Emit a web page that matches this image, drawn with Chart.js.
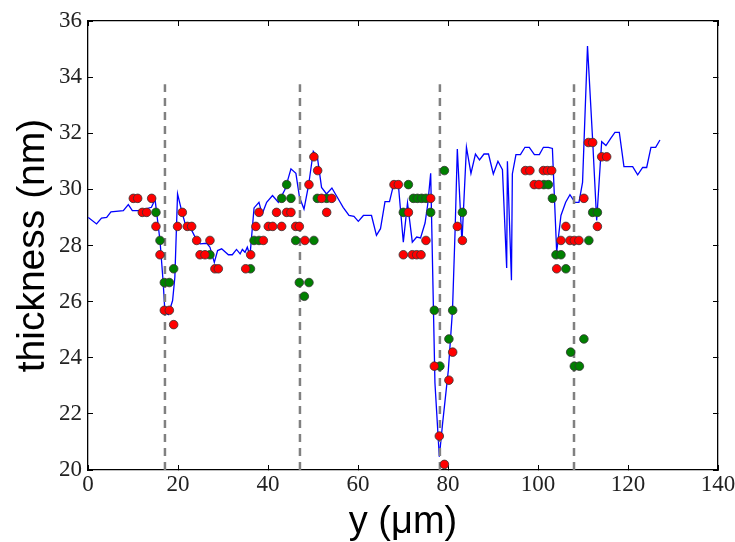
<!DOCTYPE html>
<html>
<head>
<meta charset="utf-8">
<script src="https://cdn.jsdelivr.net/npm/chart.js@4.4.1/dist/chart.umd.min.js"></script>
<style>
html,body{margin:0;padding:0;background:#fff;}
#wrap{width:735px;height:542px;}
</style>
</head>
<body>
<div id="wrap"><canvas id="c" width="735" height="542"></canvas></div>
<script>
// ---- profile line (blue) ----
const lineX = [0.07,1.9,3.0,4.15,5.1,7.85,8.96,9.85,11.6,14.1,14.9,16.0,16.7,17.1,17.85,18.8,19.3,19.9,20.8,21.6,22.7,23.8,24.9,26.4,27.1,28.07,28.8,29.7,31.2,32.07,33.0,33.8,34.3,34.9,35.4,36.0,36.9,37.99,38.7,39.7,41.0,42.3,43.8,45.1,46.2,47.0,48.0,49.0,50.07,50.96,51.9,53.0,54.2,55.4,56.7,58.0,59.1,60.07,61.2,63.0,64.1,65.0,66.0,67.0,67.8,69.0,70.07,71.0,72.07,73.04,73.9,74.9,75.5,76.15,77.1,78.07,78.8,80.07,81.0,81.6,82.07,83.1,84.1,85.1,86.1,87.0,88.0,89.0,90.07,91.1,92.1,93.04,93.2,94.1,94.3,95.1,96.1,97.1,98.07,99.2,100.3,101.2,102.3,103.2,104.15,105.1,106.15,107.1,108.2,109.1,109.9,111.0,112.15,113.04,114.15,115.1,116.2,117.1,118.07,119.1,120.07,121.04,122.15,123.26,124.15,125.1,126.15,127.1];
const lineY = [29.0,28.77,28.98,29.0,29.2,29.24,29.46,29.24,29.24,29.36,29.64,28.18,26.7,25.6,25.54,26.04,26.87,29.84,29.24,28.77,28.65,28.3,28.06,28.08,27.94,27.4,27.82,27.88,27.67,27.67,27.86,27.7,27.86,27.76,27.94,27.64,29.34,29.54,29.12,29.54,29.78,29.54,30.0,30.73,30.57,29.72,29.3,30.13,31.35,31.16,30.07,29.84,30.05,29.72,29.36,29.07,29.04,28.86,29.07,29.07,28.36,28.6,29.56,29.56,30.1,30.1,28.12,29.52,28.12,28.3,28.27,28.8,29.47,30.57,23.1,20.47,21.66,23.55,25.69,28.65,31.44,28.12,31.5,30.57,31.26,31.05,31.26,31.26,30.55,31.0,30.7,27.2,31.0,26.76,30.55,31.24,31.24,31.5,31.5,31.24,31.24,31.5,31.5,31.46,27.76,29.07,29.54,29.81,29.54,29.54,30.25,35.11,31.73,28.89,31.7,31.56,31.83,32.03,32.03,30.81,30.81,30.81,30.52,30.78,30.78,31.5,31.5,31.76];

// ---- red points ----
const redX = [10.07,11.04,14.15,12.07,13.04,20.96,15.1,19.9,22.07,23.04,24.15,27.1,16.0,24.9,26.0,28.2,28.96,16.96,18.07,19.04,
  36.15,35.04,38.96,37.3,40.07,41.04,43.04,46.15,46.96,38.0,41.9,44.15,45.1,53.04,51.9,54.15,49.1,51.04,50.2,48.2,
  68.0,68.96,76.15,71.2,82.07,75.1,83.2,70.07,72.07,73.04,74.0,81.04,76.96,80.2,78.07,79.2,
  97.2,98.2,101.2,102.1,103.04,99.15,100.2,110.2,106.2,113.2,105.1,107.1,108.07,109.1,104.15,111.2,112.15,114.15,115.26];
const redY = [29.68,29.68,29.68,29.18,29.18,29.18,28.68,28.68,28.68,28.68,28.18,28.18,27.67,27.67,27.67,27.17,27.17,25.69,25.69,25.18,
  27.67,27.17,28.18,28.68,28.68,28.68,28.68,28.68,28.68,29.18,29.18,29.18,29.18,29.18,29.68,29.68,30.17,30.67,31.16,28.18,
  30.17,30.17,29.68,29.18,28.68,28.18,28.18,27.67,27.67,27.67,27.67,24.2,23.7,23.2,21.21,20.2,
  30.67,30.67,30.67,30.67,30.67,30.17,30.17,29.68,28.68,28.68,28.18,28.18,28.18,28.18,27.17,31.67,31.67,31.16,31.16];

// ---- green points ----
const greenX = [15.1,16.0,27.1,19.04,36.1,16.96,18.07,36.9,38.0,
  43.04,45.1,50.96,53.04,44.15,46.15,50.2,46.96,49.1,48.07,
  71.2,72.3,73.2,74.15,75.1,70.07,76.15,83.2,79.2,76.96,81.04,80.2,78.2,
  101.3,102.3,103.2,112.15,113.2,111.3,104.0,105.1,106.2,110.2,107.26,108.07,109.2];
const greenY = [29.18,28.18,27.67,27.17,27.17,26.68,26.68,28.18,28.18,
  29.68,29.68,29.68,29.68,30.17,28.18,28.18,26.68,26.68,26.19,
  30.17,29.68,29.68,29.68,29.68,29.18,29.18,29.18,30.67,25.69,25.69,24.67,23.7,
  30.17,30.17,29.68,29.18,29.18,28.18,27.67,27.67,27.17,24.67,24.2,23.7,23.7];

// ---- dashed markers ----
const dashX = [17.1, 47.1, 78.2, 108.0];
const dashBottom = 20;
const dashTop = 33.75;

// ---- axes ----
const xTicks = [0,20,40,60,80,100,120,140];
const yTicks = [20,22,24,26,28,30,32,34,36];
const xTitle = 'y (μm)';
const yTitle = 'thickness (nm)';

const pts = (xs, ys) => xs.map((x, i) => ({x: x, y: ys[i]}));

const datasets = [];
datasets.push({
  label: 'red', data: pts(redX, redY), showLine: false,
  pointRadius: 4.3, pointBackgroundColor: '#ff0000', pointBorderColor: '#333333',
  pointBorderWidth: 0.8, order: 0
});
datasets.push({
  label: 'green', data: pts(greenX, greenY), showLine: false,
  pointRadius: 4.3, pointBackgroundColor: '#008000', pointBorderColor: '#333333',
  pointBorderWidth: 0.8, order: 1
});
dashX.forEach((dx, i) => {
  datasets.push({
    label: 'dash' + i, data: [{x: dx, y: dashBottom}, {x: dx, y: dashTop}],
    showLine: true, pointRadius: 0, borderColor: '#808080', borderWidth: 2.5,
    borderDash: [8, 6], order: 2
  });
});
datasets.push({
  label: 'profile', data: pts(lineX, lineY), showLine: true, pointRadius: 0,
  borderColor: '#0000ff', borderWidth: 1.3, tension: 0, order: 3
});

const tickFont = {family: 'Liberation Serif', size: 23};
function fixed(prop, val) {
  return function (scale) {
    scale[prop] = val;
    scale.paddingLeft = 0; scale.paddingRight = 0;
    scale.paddingTop = 0; scale.paddingBottom = 0;
  };
}

function axisCommon(extra) {
  return Object.assign({
    type: 'linear',
    border: {display: true, color: '#000', width: 1.3},
    grid: {drawOnChartArea: false, drawTicks: true, tickLength: -5, color: '#000', lineWidth: 1}
  }, extra);
}

new Chart(document.getElementById('c'), {
  type: 'scatter',
  data: {datasets: datasets},
  options: {
    responsive: false,
    animation: false,
    devicePixelRatio: 1,
    layout: {padding: 0},
    plugins: {legend: {display: false}, tooltip: {enabled: false}},
    scales: {
      x: axisCommon({
        position: 'bottom', min: 0, max: 140,
        afterBuildTicks: s => { s.ticks = xTicks.map(v => ({value: v})); },
        ticks: {font: tickFont, color: '#222', padding: 6, autoSkip: false, maxRotation: 0},
        title: {display: true, text: xTitle, font: {family: 'Liberation Sans', size: 38}, color: '#000', padding: {top: 0, bottom: -3}},
        afterFit: fixed('height', 72)
      }),
      y: axisCommon({
        position: 'left', min: 20, max: 36,
        afterBuildTicks: s => { s.ticks = yTicks.map(v => ({value: v})); },
        ticks: {font: tickFont, color: '#222', padding: 11, autoSkip: false},
        title: {display: true, text: yTitle, font: {family: 'Liberation Sans', size: 39}, color: '#000', padding: {top: 10, bottom: 0}},
        afterFit: fixed('width', 88)
      }),
      x2: axisCommon({
        position: 'top', min: 0, max: 140,
        afterBuildTicks: s => { s.ticks = xTicks.map(v => ({value: v})); },
        ticks: {display: false},
        afterFit: fixed('height', 21)
      }),
      y2: axisCommon({
        position: 'right', min: 20, max: 36,
        afterBuildTicks: s => { s.ticks = yTicks.map(v => ({value: v})); },
        ticks: {display: false},
        afterFit: fixed('width', 17)
      })
    }
  }
});
</script>
</body>
</html>
